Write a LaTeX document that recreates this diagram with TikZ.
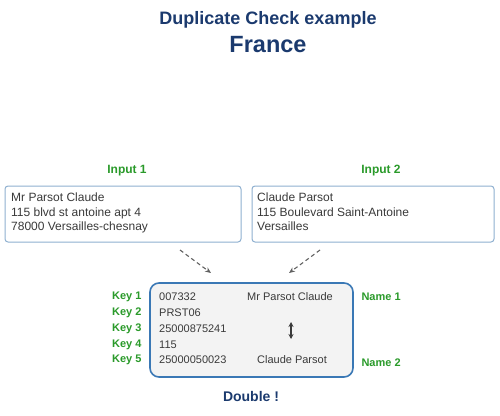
\documentclass[tikz,border=0pt]{standalone}
\usepackage{fontspec}
\setmainfont{Liberation Sans}
\usetikzlibrary{arrows.meta}
\definecolor{navy}{HTML}{1B3A6E}
\definecolor{kgreen}{HTML}{2A9A2A}
\definecolor{lblue}{HTML}{8FB0D0}
\definecolor{mblue}{HTML}{3A78B5}
\definecolor{txt}{HTML}{3A3A3A}
\definecolor{boxfill}{HTML}{F3F3F3}
\tikzset{
  title/.style={text=navy,font=\bfseries\fontsize{18}{20}\selectfont},
  glabel/.style={text=kgreen,font=\bfseries\fontsize{11}{13}\selectfont},
  inbox/.style={draw=lblue,line width=1pt,rounded corners=3pt,fill=white},
  body/.style={text=txt,font=\fontsize{12}{14.2}\selectfont,align=left,inner sep=0pt},
  val/.style={text=txt,font=\fontsize{11}{13}\selectfont,inner sep=0pt},
  mainbox/.style={draw=mblue,line width=1.6pt,rounded corners=9pt,fill=boxfill},
  darr/.style={draw=txt!80,line width=1.1pt,dashed,dash pattern=on 4pt off 3pt,-{Stealth[length=6pt,width=5pt]}},
}
\begin{document}
\begin{tikzpicture}[x=1pt,y=-1pt]
\useasboundingbox (0,0) rectangle (500,415);
\node[title] (t1) at (268,20) {Duplicate Check example};
\node[title,font=\bfseries\fontsize{23.5}{26}\selectfont] (t2) at (268,45) {France};
% inputs
\node[glabel,font=\bfseries\fontsize{12}{14}\selectfont] (i1) at (127,171) {Input 1};
\node[glabel,font=\bfseries\fontsize{12}{14}\selectfont] (i2) at (381,171) {Input 2};
\draw[inbox] (5,186) rectangle (241,242);
\draw[inbox] (252,186) rectangle (494,242);
\node[body,anchor=north west] (a1) at (11,193) {Mr Parsot Claude\\115 blvd st antoine apt 4\\78000 Versailles-chesnay};
\node[body,anchor=north west] (a2) at (257,193) {Claude Parsot\\115 Boulevard Saint-Antoine\\Versailles};
% arrows
\coordinate (s1) at (180,250);
\coordinate (e1) at (211,273);
\coordinate (s2) at (320,250);
\coordinate (e2) at (289,273);
\draw[darr] (s1) -- (e1);
\draw[darr] (s2) -- (e2);
% main box
\draw[mainbox] (150,283) rectangle (353,377);
\foreach \i/\y/\v in {1/297/007332,2/313/PRST06,3/329/25000875241,4/345/115,5/360/25000050023}{
  \node[glabel,anchor=east] (k\i) at (145,\y) {Key \i};
  \node[val,anchor=west] (v\i) at (159,\y) {\v};
}
\node[val] (n1) at (290,297) {Mr Parsot Claude};
\node[val] (n2) at (292,360) {Claude Parsot};
\coordinate (ua) at (291,322);
\coordinate (ub) at (291,339);
\draw[txt,line width=1.2pt,{Stealth[length=5pt,width=5pt]}-{Stealth[length=5pt,width=5pt]}] (ua) -- (ub);
\node[glabel,anchor=west] (m1) at (358,297) {Name 1};
\node[glabel,anchor=west] (m2) at (358,363) {Name 2};
\node[text=navy,font=\bfseries\fontsize{14}{16}\selectfont] (d) at (251,396) {Double !};
\end{tikzpicture}
\end{document}
